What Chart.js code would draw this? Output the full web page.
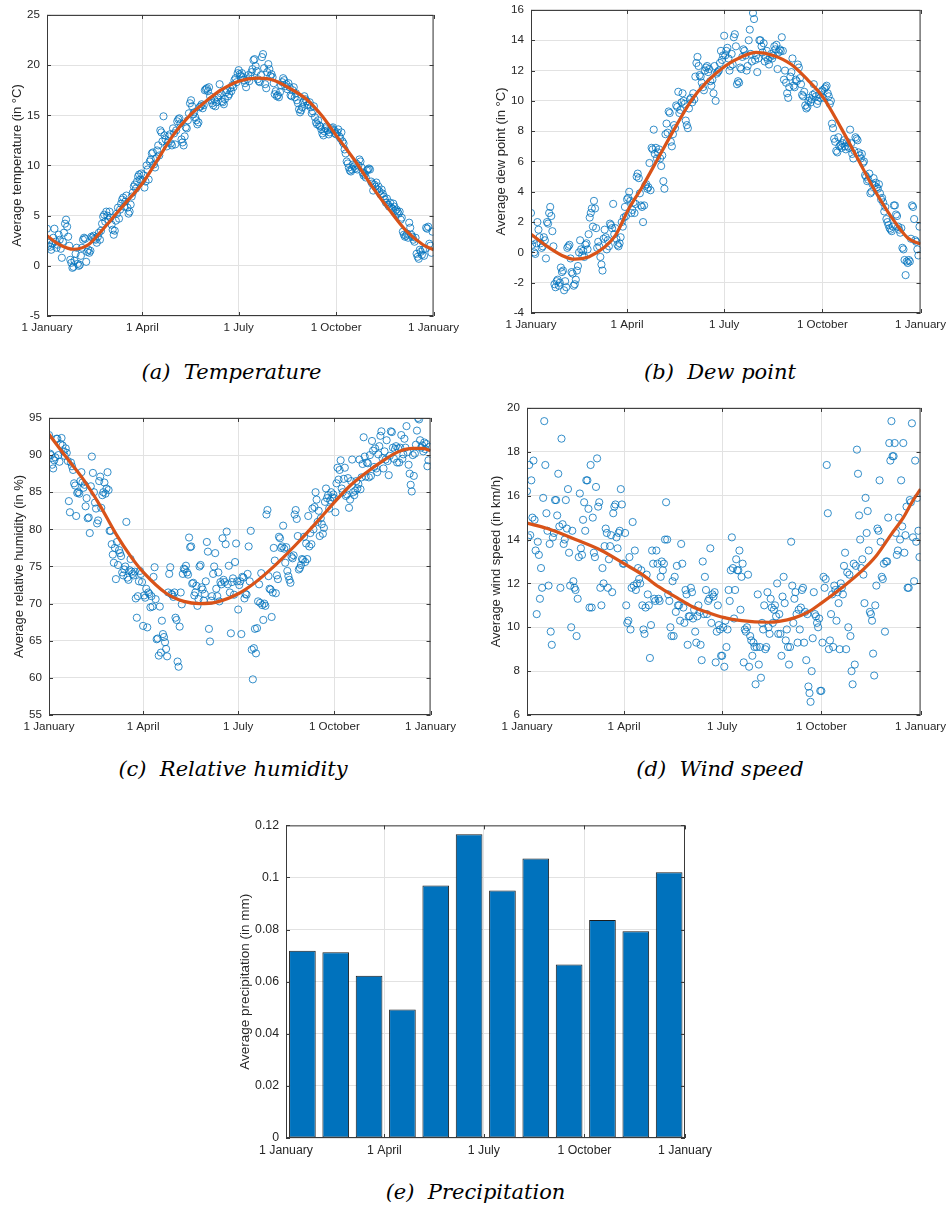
<!DOCTYPE html>
<html>
<head>
<meta charset="utf-8">
<script src="https://cdn.jsdelivr.net/npm/chart.js@4.4.1/dist/chart.umd.min.js"></script>
<style>
  body { margin: 0; background: #fff; }
  #page { position: relative; width: 949px; height: 1216px; overflow: hidden; background: #fff; }
  #page canvas { position: absolute; }
  .cap {
    position: absolute;
    font-family: 'DejaVu Serif', serif;
    font-style: italic;
    font-size: 21px;
    line-height: 1;
    color: #000;
    white-space: pre;
    transform: translateX(-50%);
  }
</style>
</head>
<body>
<div id="page"></div>
<script>
// ---- data ----
const MONTH_START = [1, 32, 60, 91, 121, 152, 182, 213, 244, 274, 305, 335];
const XTICK_DAYS = [1, 91, 182, 274, 366];
const XTICK_LABELS = ['1 January', '1 April', '1 July', '1 October', '1 January'];

// daily averages, one row per month
const TEMP = [
  [3.7, 2.0, 2.3, 1.9, 1.6, 2.2, 2.8, 3.7, 2.4, 1.8, 2.1, 3.1, 2.6, 1.7, 0.8, 2.4, 3.3, 4.2, 4.6, 3.9, 2.9, 2.0, 0.6, 0.3, -0.2, -0.1, 0.5, 1.2, 1.8, 0.2, 0.0],
  [0.1, 1.0, 1.8, 2.6, 2.8, 2.7, 0.4, 1.4, 1.6, 1.3, 1.5, 2.9, 2.8, 3.0, 2.7, 2.6, 2.3, 2.9, 3.3, 2.6, 3.5, 4.2, 4.9, 5.1, 4.4, 5.4, 5.0, 4.6],
  [5.4, 4.8, 4.1, 3.6, 3.1, 3.5, 4.5, 5.2, 5.8, 4.7, 5.6, 6.2, 6.6, 6.8, 5.9, 6.4, 7.0, 5.8, 5.2, 5.4, 6.1, 6.9, 7.3, 7.9, 8.1, 7.7, 8.4, 8.9, 9.1, 8.6, 9.2],
  [8.5, 9.0, 7.8, 8.4, 10.0, 9.6, 8.6, 10.4, 10.6, 11.2, 11.3, 10.1, 9.8, 10.7, 11.5, 12.0, 11.0, 13.5, 13.3, 12.4, 14.9, 13.0, 12.6, 11.9, 12.3, 12.9, 13.1, 12.2, 12.0, 13.7],
  [13.2, 12.1, 13.5, 14.4, 14.6, 14.7, 14.2, 12.6, 12.3, 12.0, 12.9, 13.8, 13.7, 14.5, 15.2, 16.2, 16.5, 15.9, 15.1, 15.3, 14.8, 14.5, 14.1, 14.3, 15.8, 15.9, 16.1, 15.7, 16.0, 17.5, 17.6],
  [17.7, 17.4, 17.8, 16.9, 16.5, 16.2, 16.0, 16.6, 15.9, 16.3, 16.8, 17.0, 18.1, 17.2, 16.4, 16.3, 16.1, 16.6, 17.3, 17.5, 16.9, 17.1, 17.7, 17.4, 18.0, 17.8, 18.5, 18.7, 18.3, 19.2],
  [19.5, 19.1, 18.9, 19.2, 18.8, 18.5, 18.2, 17.8, 18.6, 19.0, 18.4, 18.9, 19.3, 19.6, 20.5, 20.6, 19.9, 19.4, 18.6, 18.4, 18.3, 19.0, 20.8, 21.1, 19.7, 18.1, 17.7, 19.3, 20.1, 19.6, 18.9],
  [19.1, 18.8, 18.2, 17.1, 17.4, 16.9, 17.0, 16.8, 17.3, 18.0, 18.3, 18.7, 18.5, 17.9, 18.1, 17.6, 18.2, 17.8, 17.0, 16.9, 17.5, 17.8, 16.8, 17.2, 16.5, 16.2, 15.6, 15.3, 15.5, 15.8, 16.3],
  [16.9, 16.6, 16.4, 16.0, 16.1, 16.3, 15.8, 15.2, 15.4, 15.9, 14.8, 14.3, 14.1, 14.5, 14.0, 13.9, 13.6, 13.2, 13.0, 13.4, 13.7, 13.9, 13.5, 13.1, 13.3, 13.6, 13.7, 13.8, 13.5, 13.2],
  [13.1, 13.3, 13.6, 12.9, 12.7, 13.3, 12.4, 12.2, 11.6, 11.2, 10.4, 10.2, 9.8, 9.5, 9.4, 9.6, 10.1, 9.9, 9.7, 10.2, 9.6, 10.0, 10.6, 10.4, 9.8, 9.3, 9.0, 9.1, 8.8, 9.5, 9.6],
  [9.7, 9.6, 8.4, 8.2, 7.5, 8.1, 7.9, 8.3, 7.6, 7.9, 7.4, 7.1, 7.6, 7.2, 6.9, 6.6, 6.3, 6.7, 6.1, 5.9, 6.3, 5.8, 5.7, 6.2, 5.9, 5.5, 5.6, 5.4, 5.2, 5.4],
  [4.6, 4.8, 3.4, 3.1, 2.9, 3.0, 3.2, 2.8, 4.3, 3.8, 3.1, 2.9, 2.6, 2.4, 2.8, 1.2, 0.9, 0.7, 1.6, 1.4, 1.1, 1.6, 1.0, 1.7, 3.8, 3.7, 3.9, 2.2, 2.0, 1.3, 3.4]
];
const TEMP_FIT_DAYS = [1, 13, 26, 40, 51, 60, 75, 91, 105, 120, 135, 150, 165, 182, 200, 215, 230, 246, 261, 274, 293, 308, 324, 340, 356, 366];
const TEMP_FIT = [3.0, 2.1, 1.65, 2.1, 3.3, 4.4, 6.25, 8.2, 10.5, 13.0, 14.9, 16.3, 17.5, 18.4, 18.7, 18.5, 17.7, 16.6, 14.9, 13.0, 10.3, 7.9, 5.6, 3.5, 2.1, 1.6];
const TEMP_TICKS = [-5, 0, 5, 10, 15, 20, 25];

const DEW = [
  [2.6, 0.5, 0.8, 0.0, -0.1, 0.6, 2.0, 1.5, 1.0, 0.6, 0.3, 0.4, 1.0, 0.8, -0.4, 2.0, 1.9, 2.6, 3.0, 2.4, 1.4, 0.4, -2.1, -2.3, -1.9, -1.8, -2.2, -2.0, -1.0, -1.3, -1.2],
  [-2.5, -1.9, -2.3, 0.3, 0.4, 0.5, -0.4, -1.3, -1.4, -2.2, -2.1, -1.8, -1.2, -0.9, 0.0, 0.8, 0.2, -0.2, 0.1, -0.3, 0.5, 0.6, 0.2, 1.2, 2.3, 2.6, 2.9, 1.7],
  [3.4, 2.9, 1.6, 0.3, 0.7, 0.4, -0.3, -0.8, -1.2, 0.9, 1.5, 1.0, 0.2, 0.8, 0.4, 1.9, 1.8, 1.6, 3.2, 1.2, 1.6, 0.9, 0.5, 0.4, 0.6, 1.0, 2.0, 1.7, 2.3, 3.0, 2.4],
  [3.5, 3.6, 4.0, 3.4, 2.6, 2.8, 3.3, 2.6, 3.2, 5.0, 5.2, 4.9, 3.9, 3.1, 3.0, 2.0, 3.1, 4.4, 4.5, 4.2, 4.3, 5.9, 4.1, 6.9, 6.8, 8.1, 6.5, 6.9, 6.2, 6.6],
  [6.8, 6.2, 5.7, 6.4, 4.7, 4.2, 7.8, 8.5, 7.9, 9.3, 9.2, 7.3, 7.0, 7.8, 8.4, 8.2, 9.7, 9.6, 10.6, 9.2, 9.4, 9.9, 10.5, 10.0, 9.8, 8.7, 8.4, 8.2, 9.5, 10.1, 10.2],
  [9.9, 10.5, 10.1, 11.6, 12.5, 12.9, 12.3, 11.7, 11.6, 11.2, 10.9, 10.7, 12.0, 12.2, 12.3, 11.9, 12.1, 11.3, 11.0, 11.4, 10.5, 12.3, 10.0, 11.8, 11.9, 12.0, 12.5, 13.3, 12.7, 13.0],
  [14.3, 13.0, 13.3, 13.5, 12.8, 12.0, 12.3, 13.1, 12.4, 14.2, 14.4, 13.6, 11.1, 11.3, 11.2, 12.2, 12.1, 12.9, 13.4, 13.3, 13.0, 12.0, 12.3, 14.0, 14.7, 13.1, 12.6, 15.8, 15.4, 12.7, 13.0],
  [11.9, 12.8, 14.0, 14.0, 13.6, 13.2, 13.8, 12.6, 12.9, 13.3, 12.7, 12.4, 12.9, 13.1, 12.8, 13.0, 13.6, 13.4, 13.7, 12.1, 13.2, 13.4, 13.3, 14.2, 13.3, 11.4, 12.0, 11.2, 10.5, 10.2, 10.9],
  [11.6, 11.9, 12.8, 11.0, 10.9, 11.4, 11.3, 12.4, 12.2, 11.5, 11.1, 10.4, 10.3, 10.6, 9.7, 9.5, 9.6, 10.0, 10.2, 9.9, 10.1, 10.4, 11.1, 10.5, 10.3, 9.8, 10.0, 10.4, 10.2, 10.6],
  [10.7, 10.2, 10.8, 10.9, 11.0, 10.5, 10.3, 9.8, 10.0, 8.5, 8.2, 7.5, 7.3, 6.7, 6.6, 7.6, 7.0, 7.1, 6.9, 7.2, 7.4, 7.0, 6.8, 7.3, 7.0, 6.9, 8.1, 7.2, 6.5, 6.2, 6.7],
  [7.6, 7.5, 7.4, 6.6, 6.4, 6.2, 6.5, 5.9, 6.0, 5.1, 5.0, 4.7, 4.8, 5.2, 3.9, 4.0, 4.5, 4.9, 4.4, 4.6, 4.3, 4.2, 4.5, 3.9, 3.5, 3.6, 3.3, 2.7, 3.0, 2.2],
  [2.0, 1.8, 1.6, 1.5, 1.4, 1.7, 3.1, 3.1, 2.5, 2.4, 1.7, 1.5, 1.3, 1.6, 0.3, 0.2, -0.5, -1.5, -0.6, -0.7, -0.5, -0.6, 0.9, 3.1, 3.0, 2.2, 0.8, 0.7, 0.2, -0.2, 1.7]
];
const DEW_FIT_DAYS = [1, 15, 30, 42, 55, 70, 80, 92, 105, 120, 135, 151, 165, 183, 198, 212, 228, 245, 260, 275, 292, 307, 323, 339, 354, 366];
const DEW_FIT = [1.2, 0.45, -0.2, -0.45, -0.3, 0.35, 1.1, 2.8, 4.3, 6.2, 8.1, 10.0, 11.2, 12.3, 12.9, 13.2, 13.0, 12.4, 11.4, 10.2, 8.15, 6.2, 4.1, 2.3, 0.95, 0.55];
const DEW_TICKS = [-4, -2, 0, 2, 4, 6, 8, 10, 12, 14, 16];

const HUM = [
  [92.7, 90.2, 90.0, 88.7, 88.2, 89.3, 89.7, 92.2, 92.2, 90.0, 89.1, 91.5, 92.3, 91.3, 90.5, 89.9, 90.9, 90.3, 89.2, 83.8, 82.3, 89.0, 88.5, 88.0, 86.2, 85.9, 81.8, 84.9, 85.0, 84.8, 86.5],
  [87.7, 86.3, 85.6, 86.0, 83.1, 84.2, 81.5, 81.6, 79.5, 85.8, 89.8, 87.6, 85.0, 83.6, 82.8, 80.8, 81.2, 86.5, 87.1, 82.9, 84.6, 85.0, 86.3, 84.8, 85.5, 87.7, 85.3, 79.8],
  [79.8, 78.0, 76.6, 75.5, 77.5, 73.3, 78.3, 75.2, 77.2, 76.8, 76.4, 74.2, 73.8, 74.6, 75.0, 81.0, 73.5, 73.2, 74.5, 76.0, 74.3, 74.0, 73.8, 74.3, 70.7, 68.1, 71.0, 73.0, 74.4, 74.0, 72.9],
  [67.0, 71.1, 70.8, 72.0, 66.8, 71.5, 71.3, 69.5, 71.0, 69.6, 73.6, 74.9, 70.6, 65.2, 65.3, 63.0, 69.6, 63.4, 67.7, 65.9, 65.5, 64.8, 63.9, 62.9, 71.5, 74.0, 74.9, 71.3, 71.2, 70.9],
  [71.5, 68.1, 67.8, 62.2, 61.5, 66.9, 71.5, 69.9, 74.0, 74.7, 74.6, 75.1, 74.2, 73.9, 78.9, 77.6, 77.7, 72.7, 72.8, 71.1, 71.5, 72.4, 69.7, 70.6, 75.0, 75.2, 72.2, 71.9, 70.4, 71.3, 73.0],
  [78.3, 77.0, 66.6, 64.9, 70.4, 71.0, 74.0, 75.0, 76.8, 72.0, 71.0, 74.2, 70.3, 72.9, 72.6, 78.8, 73.2, 72.9, 78.0, 79.7, 72.6, 75.1, 71.5, 66.0, 72.9, 73.4, 71.2, 75.6, 78.1, 73.0],
  [69.2, 72.5, 73.0, 65.9, 73.6, 73.5, 70.7, 71.3, 71.2, 74.0, 77.7, 73.0, 79.8, 63.8, 59.8, 64.0, 66.6, 63.3, 66.7, 70.3, 72.6, 70.1, 74.1, 69.8, 67.8, 70.0, 69.7, 82.0, 82.6, 73.7, 72.0],
  [71.9, 68.2, 71.5, 77.5, 75.8, 71.4, 73.8, 73.3, 79.0, 78.8, 77.5, 77.7, 80.5, 77.4, 75.5, 77.6, 74.4, 73.7, 73.2, 72.8, 76.3, 76.1, 76.5, 82.0, 82.6, 81.4, 79.1, 74.6, 74.8, 75.2, 76.0],
  [75.9, 79.0, 75.6, 78.1, 76.0, 81.8, 77.7, 79.5, 78.0, 82.8, 80.0, 83.0, 85.0, 84.0, 81.0, 82.5, 79.1, 81.5, 80.7, 79.4, 80.2, 83.7, 85.5, 84.2, 84.6, 82.8, 83.9, 85.0, 84.3, 84.7],
  [84.2, 82.3, 86.2, 88.3, 86.7, 88.0, 89.3, 85.5, 85.0, 86.8, 88.3, 84.5, 84.7, 86.9, 82.9, 84.0, 86.5, 89.4, 85.0, 84.6, 85.2, 86.5, 85.5, 86.1, 89.4, 85.4, 87.0, 88.8, 92.4, 89.8, 87.1],
  [89.0, 88.9, 87.0, 90.0, 87.2, 91.9, 90.6, 88.4, 90.9, 88.2, 87.7, 90.1, 91.2, 92.6, 93.2, 89.6, 88.2, 90.5, 89.4, 92.0, 89.2, 87.3, 89.9, 93.2, 93.1, 91.0, 89.5, 90.8, 91.2, 89.0],
  [90.9, 89.0, 91.0, 92.7, 89.5, 90.1, 92.2, 91.0, 93.9, 90.4, 88.7, 87.5, 86.0, 85.1, 90.0, 87.2, 90.2, 91.4, 93.3, 95.0, 94.8, 92.0, 91.0, 91.3, 90.5, 91.7, 90.8, 91.5, 88.5, 89.3, 91.1]
];
const HUM_FIT_DAYS = [1, 17, 33, 49, 65, 80, 92, 113, 130, 145, 161, 183, 196, 209, 225, 241, 258, 275, 290, 304, 320, 336, 349, 358, 366];
const HUM_FIT = [92.8, 89.8, 86.9, 83.4, 79.4, 76.2, 74.1, 71.4, 70.3, 70.0, 70.2, 71.4, 72.6, 74.1, 76.2, 78.5, 81.1, 83.8, 86.0, 87.6, 89.2, 90.5, 90.9, 90.9, 90.6];
const HUM_TICKS = [55, 60, 65, 70, 75, 80, 85, 90, 95];

const WIND = [
  [16.2, 14.1, 17.4, 14.2, 16.7, 15.0, 17.6, 14.9, 13.5, 10.6, 13.9, 13.3, 11.3, 12.7, 11.8, 15.9, 19.4, 17.4, 15.2, 14.4, 11.9, 13.8, 9.8, 9.2, 14.1, 14.3, 15.8, 15.8, 15.1, 17.0, 14.6],
  [11.8, 18.6, 14.7, 13.8, 14.0, 15.8, 14.5, 16.3, 13.4, 11.9, 10.0, 14.4, 12.1, 11.8, 11.7, 9.6, 11.3, 13.2, 16.1, 13.6, 13.3, 14.9, 15.7, 14.4, 16.7, 16.7, 15.4, 10.9],
  [17.4, 10.9, 15.0, 13.4, 13.2, 16.4, 17.7, 15.5, 15.7, 11.8, 11.0, 12.7, 12.0, 13.7, 14.5, 14.3, 11.8, 13.1, 13.7, 14.2, 11.6, 15.2, 15.5, 15.6, 14.1, 13.6, 14.3, 14.4, 16.3, 15.6, 12.9],
  [12.9, 14.3, 11.0, 10.2, 10.3, 13.2, 9.9, 11.8, 14.8, 11.9, 13.5, 11.7, 12.0, 12.7, 12.2, 12.0, 12.6, 11.0, 9.9, 9.7, 10.9, 12.4, 11.5, 11.0, 8.6, 10.1, 13.5, 12.9, 11.3, 11.2],
  [13.5, 12.9, 11.3, 11.2, 12.3, 13.0, 12.6, 12.9, 14.0, 15.7, 14.0, 11.5, 11.2, 10.0, 9.6, 12.1, 9.6, 12.3, 10.7, 12.8, 11.0, 11.0, 10.3, 13.8, 12.9, 10.9, 10.2, 11.7, 11.5, 9.2, 10.5],
  [10.5, 11.8, 11.6, 10.4, 10.8, 9.8, 9.3, 10.5, 11.0, 10.7, 9.2, 8.5, 13.0, 10.6, 12.3, 11.7, 10.6, 11.2, 11.3, 13.6, 10.2, 11.5, 11.4, 11.6, 8.4, 9.8, 11.0, 10.1, 9.9, 8.7],
  [8.7, 10.0, 8.2, 10.3, 9.1, 9.9, 11.7, 11.2, 12.6, 14.1, 12.7, 10.4, 11.7, 13.1, 12.6, 12.6, 13.5, 10.8, 12.3, 12.9, 8.4, 9.9, 9.8, 10.0, 12.4, 8.2, 9.6, 9.4, 8.7, 9.3, 9.1],
  [7.4, 9.1, 11.5, 8.3, 9.1, 7.7, 10.2, 9.9, 11.0, 9.0, 9.1, 11.6, 10.0, 9.7, 11.3, 10.9, 10.2, 10.8, 11.0, 10.5, 12.0, 9.7, 10.6, 9.7, 8.7, 11.4, 12.3, 11.1, 9.4, 9.9, 9.1],
  [8.3, 9.1, 13.9, 11.9, 10.2, 11.3, 11.6, 10.6, 9.3, 10.8, 9.9, 10.9, 11.7, 11.8, 9.3, 10.7, 8.5, 10.6, 7.3, 7.0, 6.6, 8.0, 9.5, 11.6, 10.6, 10.5, 10.2, 10.0, 10.4, 7.1],
  [7.1, 9.3, 12.3, 11.8, 12.2, 17.4, 15.2, 9.0, 9.4, 10.6, 11.5, 9.1, 11.9, 11.7, 10.3, 11.6, 11.1, 9.0, 12.0, 11.8, 11.5, 12.8, 13.4, 9.0, 12.5, 10.0, 12.4, 9.6, 8.0, 7.4, 12.9],
  [8.3, 12.8, 18.1, 17.0, 15.1, 14.0, 12.7, 13.1, 12.4, 11.1, 15.9, 14.3, 15.3, 13.5, 10.7, 10.6, 10.3, 8.8, 7.8, 11.0, 11.9, 14.5, 14.4, 16.7, 13.9, 12.3, 12.2, 12.9, 9.8, 13.0],
  [13.0, 15.0, 18.4, 17.6, 19.4, 17.8, 17.8, 18.4, 14.3, 13.3, 13.5, 15.0, 14.0, 16.7, 14.6, 18.4, 13.4, 14.2, 15.5, 11.8, 11.8, 15.8, 15.7, 19.3, 14.1, 12.1, 17.6, 13.9, 15.9, 14.4, 13.2]
];
const WIND_FIT_DAYS = [1, 20, 46, 70, 91, 108, 123, 140, 154, 170, 183, 200, 225, 249, 262, 274, 293, 310, 324, 339, 350, 358, 366];
const WIND_FIT = [14.75, 14.5, 14.0, 13.5, 12.9, 12.4, 11.85, 11.35, 10.95, 10.65, 10.45, 10.3, 10.23, 10.43, 10.7, 11.1, 11.8, 12.5, 13.2, 14.25, 15.0, 15.7, 16.3];
const WIND_TICKS = [6, 8, 10, 12, 14, 16, 18, 20];

// monthly averages, bar centres in day-of-year
const PRECIP_DAYS = [16, 46.5, 77, 107.5, 138, 168.5, 199, 229.5, 260, 290.5, 321, 351.5];
const PRECIP = [0.0719, 0.0713, 0.0623, 0.0493, 0.0969, 0.1166, 0.0950, 0.1073, 0.0666, 0.0837, 0.0794, 0.1020];
const PRECIP_TICKS = [0, 0.02, 0.04, 0.06, 0.08, 0.1, 0.12];

// ---- look ----
const BLUE = '#0072BD';
const ORANGE = '#D95319';
const TEXT = '#262626';
const GRID = '#e2e2e2';
const BOX = '#3a3a3a';
const FONT = "'Liberation Sans', Arial, Helvetica, sans-serif";
const PAD_L = 55, PAD_T = 10, PAD_R = 30, PAD_B = 30;

Chart.defaults.font.family = FONT;
Chart.defaults.color = TEXT;

// MATLAB-style box with inward ticks on all four sides
const matlabAxes = {
  id: 'matlabAxes',
  afterDatasetsDraw(chart) {
    const { ctx, chartArea: a, scales: { x, y } } = chart;
    const L = 4;
    ctx.save();
    ctx.strokeStyle = BOX;
    ctx.lineWidth = 1;
    ctx.beginPath();
    x.ticks.forEach(t => {
      const px = Math.round(x.getPixelForValue(t.value)) + 0.5;
      ctx.moveTo(px, a.bottom); ctx.lineTo(px, a.bottom - L);
      ctx.moveTo(px, a.top); ctx.lineTo(px, a.top + L);
    });
    y.ticks.forEach(t => {
      const py = Math.round(y.getPixelForValue(t.value)) + 0.5;
      ctx.moveTo(a.left, py); ctx.lineTo(a.left + L, py);
      ctx.moveTo(a.right, py); ctx.lineTo(a.right - L, py);
    });
    ctx.stroke();
    ctx.strokeRect(a.left + 0.5, a.top + 0.5, a.right - a.left - 1, a.bottom - a.top - 1);
    ctx.restore();
  }
};

function scalesFor(p) {
  return {
    x: {
      type: 'linear', min: 1, max: 366, offset: false,
      afterBuildTicks: s => { s.ticks = XTICK_DAYS.map(v => ({ value: v })); },
      afterFit: s => { s.height = PAD_B; },
      ticks: {
        callback: (v, i) => XTICK_LABELS[i],
        autoSkip: false, maxRotation: 0, padding: 5,
        color: TEXT, font: { size: p.tickSize }
      },
      grid: { color: GRID, drawTicks: false, offset: false },
      border: { display: false }
    },
    y: {
      type: 'linear', min: p.ticks[0], max: p.ticks[p.ticks.length - 1],
      afterBuildTicks: s => { s.ticks = p.ticks.map(v => ({ value: v })); },
      afterFit: s => { s.width = PAD_L; },
      ticks: {
        callback: v => String(Number(v.toFixed(4))),
        padding: 7, color: TEXT, font: { size: p.tickSize }
      },
      grid: { color: GRID, drawTicks: false },
      border: { display: false },
      title: {
        display: true, text: p.ylabel, color: TEXT,
        font: { size: p.labelSize },
        padding: { top: p.titlePad, bottom: 0 }
      }
    }
  };
}

function dailyPoints(months) {
  const pts = [];
  months.forEach((row, m) => row.forEach((v, i) => pts.push({ x: MONTH_START[m] + i, y: v })));
  return pts;
}

const PANELS = [
  { box: [47, 11, 434, 316], ylabel: 'Average temperature (in °C)', values: TEMP, fitDays: TEMP_FIT_DAYS, fit: TEMP_FIT, ticks: TEMP_TICKS, tickSize: 11.6, labelSize: 13, titlePad: 17.7 },
  { box: [531, 6, 921, 313], ylabel: 'Average dew point (in °C)', values: DEW, fitDays: DEW_FIT_DAYS, fit: DEW_FIT, ticks: DEW_TICKS, tickSize: 11.6, labelSize: 13, titlePad: 17.2 },
  { box: [49, 414, 431, 715], ylabel: 'Average relative humidity (in %)', values: HUM, fitDays: HUM_FIT_DAYS, fit: HUM_FIT, ticks: HUM_TICKS, tickSize: 11.6, labelSize: 13, titlePad: 17.9 },
  { box: [527, 404, 921, 715], ylabel: 'Average wind speed (in km/h)', values: WIND, fitDays: WIND_FIT_DAYS, fit: WIND_FIT, ticks: WIND_TICKS, tickSize: 11.6, labelSize: 13, titlePad: 16.5 },
  { box: [286, 821, 687, 1138], ylabel: 'Average precipitation (in mm)', bars: true, ticks: PRECIP_TICKS, tickSize: 12.3, labelSize: 13.5, titlePad: 5.9 }
];

const CAPTIONS = [
  { text: '(a)  Temperature', cx: 231.5, top: 362 },
  { text: '(b)  Dew point', cx: 720, top: 362 },
  { text: '(c)  Relative humidity', cx: 233, top: 759 },
  { text: '(d)  Wind speed', cx: 720, top: 759 },
  { text: '(e)  Precipitation', cx: 475.5, top: 1182 }
];

const page = document.getElementById('page');

PANELS.forEach(p => {
  const [l, t, r, b] = p.box;
  const w = r - l + PAD_L + PAD_R;
  const h = b - t + PAD_T + PAD_B;
  const canvas = document.createElement('canvas');
  canvas.width = w; canvas.height = h;
  canvas.style.left = (l - PAD_L) + 'px';
  canvas.style.top = (t - PAD_T) + 'px';
  canvas.style.width = w + 'px';
  canvas.style.height = h + 'px';
  page.appendChild(canvas);

  let type, datasets;
  if (p.bars) {
    type = 'bar';
    datasets = [{
      data: PRECIP_DAYS.map((d, i) => ({ x: d, y: PRECIP[i] })),
      backgroundColor: BLUE, borderColor: '#1b1b1b', borderWidth: 1,
      borderSkipped: false, barPercentage: 0.8, categoryPercentage: 1
    }];
  } else {
    type = 'scatter';
    datasets = [
      {
        type: 'line',
        data: p.fitDays.map((d, i) => ({ x: d, y: p.fit[i] })),
        borderColor: ORANGE, borderWidth: 3.2, pointRadius: 0,
        cubicInterpolationMode: 'monotone', fill: false
      },
      {
        data: dailyPoints(p.values),
        pointStyle: 'circle', pointRadius: 3.6, pointBorderWidth: 0.8,
        borderColor: BLUE, backgroundColor: 'rgba(0,0,0,0)'
      }
    ];
  }

  new Chart(canvas, {
    type,
    data: { datasets },
    options: {
      responsive: false,
      animation: false,
      events: [],
      layout: { padding: { left: 0, top: PAD_T, right: PAD_R, bottom: 0 } },
      plugins: { legend: { display: false }, tooltip: { enabled: false } },
      scales: scalesFor(p)
    },
    plugins: [matlabAxes]
  });
});

CAPTIONS.forEach(c => {
  const d = document.createElement('div');
  d.className = 'cap';
  d.textContent = c.text;
  d.style.left = c.cx + 'px';
  d.style.top = c.top + 'px';
  page.appendChild(d);
});
</script>
</body>
</html>
